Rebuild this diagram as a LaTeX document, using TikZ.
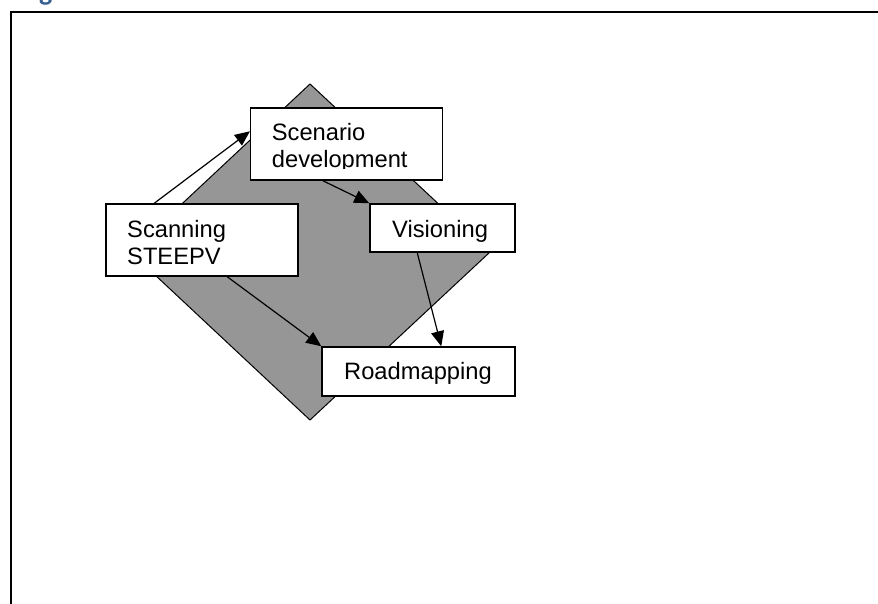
\documentclass[tikz,border=0pt]{standalone}
\usepackage{fontspec}
\setmainfont{Liberation Sans}
\newfontfamily\headfont{Carlito}
\usetikzlibrary{calc,shapes,arrows.meta}
\definecolor{diamondgray}{RGB}{150,150,150}
\definecolor{headblue}{RGB}{54,95,145}

\begin{document}
\begin{tikzpicture}[x=1pt, y=-1pt,
    box/.style={draw, fill=white, line width=1.5pt, inner sep=0pt},
    txt/.style={inner sep=0pt, font=\fontsize{23.7}{27}\selectfont},
    flow/.style={line width=1.2pt, -{Triangle[length=15pt,width=13pt]}}]
  \useasboundingbox (0,0) rectangle (878,603);
  % heading, cut off at the top
  \node[anchor=base west, inner sep=0pt, text=headblue,
        font=\headfont\bfseries\fontsize{28}{30}\selectfont] (head) at (39,0.5) {g};
  % frame
  \draw[line width=2pt] (11,610) -- (11,12) -- (885,12);
  % diamond behind the boxes
  \draw[fill=diamondgray, line width=1pt]
    (310,84) -- (490,252) -- (310,420) -- (130.5,252) -- cycle;

  % boxes
  \node[box, minimum width=192pt, minimum height=72pt] (scan) at (202,240) {};
  \node[box, minimum width=192pt, minimum height=72pt] (scen) at (346.7,144) {};
  \node[box, minimum width=145pt, minimum height=48pt] (vis) at (442.5,228) {};
  \node[box, minimum width=193pt, minimum height=49pt] (road) at (418.5,371.5) {};

  % texts
  \node[txt, anchor=base west] (scantext) at (127,237.3)
    {\begin{tabular}[t]{@{}l@{}}Scanning\\STEEPV\end{tabular}};
  \begin{scope}
    \clip (251,100) rectangle (443,168.8);
    \node[txt, anchor=base west] (scentext) at (271.7,140.5)
      {\begin{tabular}[t]{@{}l@{}}Scenario\\development\end{tabular}};
  \end{scope}
  \node[txt, anchor=base west] (vistext) at (392,237.3) {Visioning};
  \node[txt, anchor=base west] (roadtext) at (344,379) {Roadmapping};

  % arrows
  \draw[flow] ([xshift=49pt]scan.north west) -- ([yshift=-24pt]scen.north west);
  \draw[flow] ([xshift=73pt]scen.south west) -- (vis.north west);
  \draw[flow] ([xshift=48pt]vis.south west) -- ([xshift=120pt]road.north west);
  \draw[flow] ([xshift=122pt]scan.south west) -- (road.north west);
\end{tikzpicture}
\end{document}
